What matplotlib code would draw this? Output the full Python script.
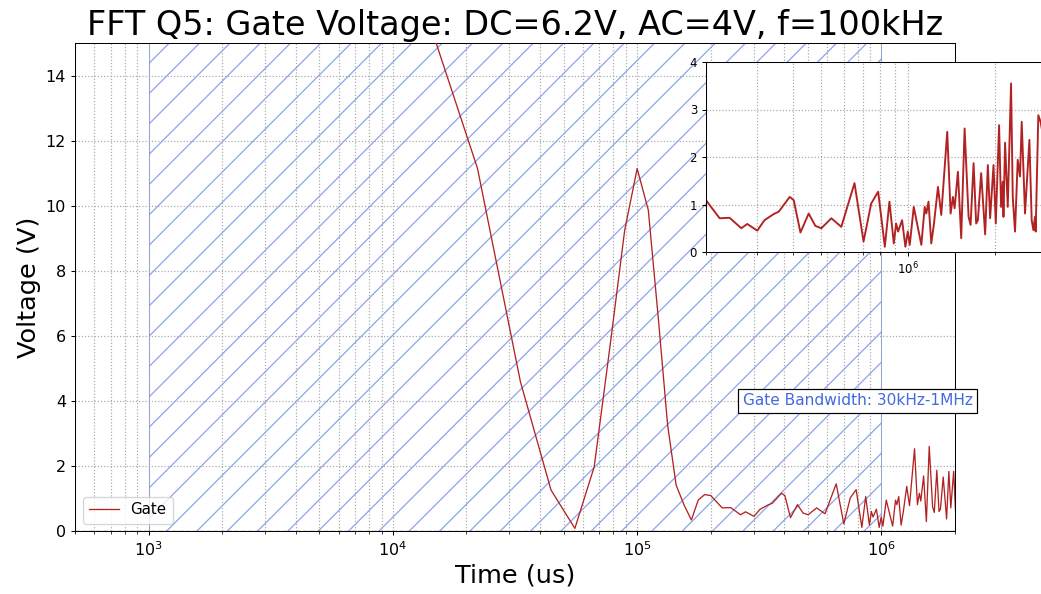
import matplotlib
matplotlib.use("Agg")
import numpy as np
import matplotlib.pyplot as plt
from matplotlib.ticker import NullFormatter, LogLocator

# Gate voltage spectrum (frequency in kHz, amplitude in V)
freq_khz = [11.1, 22.2, 33.3, 44.4, 55.6, 66.7, 77.8, 88.9, 100.0, 111.1,
            122.2, 133.3, 144.4, 155.6, 166.7, 177.8, 188.9, 200.0,
            223.0, 241.4, 264.9, 277.8, 300.9, 318.7, 343.2, 357.1, 389.7, 402.3,
            424.3, 453.1, 477.8, 501.2, 542.8, 587.5, 652.7, 701.4, 745.5, 788.0,
            831.1, 862.0, 892.7, 909.1, 923.7, 953.5, 978.8, 997.6, 1013.6, 1046.4,
            1111.4, 1141.9, 1156.5, 1176.8, 1203.2, 1229.2, 1269.0, 1302.6, 1366.0, 1403.4,
            1429.5, 1448.8, 1487.4, 1527.0, 1568.7, 1619.4, 1645.4, 1685.2, 1720.1, 1743.6,
            1789.9, 1847.7, 1887.7, 1922.4, 1975.0, 2011.2, 2064.5, 2097.6, 2126.3, 2138.0,
            2165.3, 2212.2, 2271.0, 2302.0, 2344.2, 2395.0, 2439.1, 2472.4, 2538.0, 2628.5,
            2676.7, 2713.1, 2747.9, 2763.2, 2821.8, 2873.5, 2900.0]
gate_v = [18.0, 11.15, 4.58, 1.26, 0.08, 1.97, 5.8, 9.24, 11.14, 9.86,
          6.5, 3.25, 1.41, 0.8, 0.34, 0.95, 1.12, 1.09,
          0.71, 0.72, 0.50, 0.59, 0.45, 0.67, 0.80, 0.85, 1.16, 1.09,
          0.41, 0.81, 0.55, 0.50, 0.71, 0.53, 1.45, 0.22, 1.02, 1.27,
          0.11, 1.06, 0.18, 0.60, 0.43, 0.67, 0.11, 0.43, 0.15, 0.95,
          0.15, 0.95, 0.81, 1.06, 0.18, 0.60, 1.37, 0.78, 2.53, 0.81,
          1.16, 0.92, 1.69, 0.29, 2.60, 0.74, 0.57, 1.87, 0.60, 0.67,
          1.66, 0.37, 1.83, 0.71, 1.83, 0.60, 2.67, 0.95, 1.48, 0.74,
          2.30, 0.95, 3.55, 1.16, 0.43, 1.94, 1.59, 2.74, 0.81, 2.36,
          0.67, 0.46, 0.74, 0.43, 2.88, 2.74, 2.6]

band_lo, band_hi = 1e3, 1e6
band_label = "Gate Bandwidth: 30kHz-1MHz"
title = "FFT Q5: Gate Voltage: DC=6.2V, AC=4V, f=100kHz"

DPI = 91.5
W, H = 1041, 594


def pt(px):
    return px * 72.0 / DPI


freq_hz = np.array(freq_khz) * 1e3
volts = np.array(gate_v)

fig = plt.figure(figsize=(W / DPI, H / DPI), dpi=DPI)
ax = fig.add_axes([75 / W, 63 / H, 880 / W, 488 / H])

line_color = "#b22222"
band_color = "royalblue"

ax.axvspan(band_lo, band_hi, facecolor="none", edgecolor=band_color,
           hatch="/", alpha=0.6, lw=pt(1.0), zorder=1)
ax.plot(freq_hz, volts, color=line_color, lw=pt(1.3), label="Gate", zorder=3)
ax.axhline(0, color=line_color, ls="--", lw=pt(1.3), zorder=3)

ax.set_xscale("log")
ax.set_xlim(500, 2e6)
ax.set_ylim(0, 15)
ax.set_yticks(np.arange(0, 15, 2))
ax.xaxis.set_minor_formatter(NullFormatter())
ax.grid(True, which="both", ls=":", color="#a8a8a8", lw=pt(1.2))
ax.tick_params(labelsize=pt(16))
ax.set_xlabel("Time (us)", fontsize=pt(25.6))
ax.set_ylabel("Voltage (V)", fontsize=pt(25.6))
ax.set_title(title, fontsize=pt(33.5))

ax.text(8e5, 4.0, band_label, color=band_color, fontsize=pt(15.4),
        ha="center", va="center", zorder=5,
        bbox=dict(boxstyle="square,pad=0.3", facecolor="white",
                  edgecolor="black", lw=pt(1.2)))

ax.legend(loc="lower left", fontsize=pt(15), framealpha=0.8)

# Zoomed view of the high-frequency part
axin = fig.add_axes([706 / W, (H - 252) / H, 340 / W, 190 / H])
axin.plot(freq_hz, volts, color=line_color, lw=pt(1.9))
axin.set_xscale("log")
axin.set_xlim(2e5, 3e6)
axin.set_ylim(0, 4)
axin.set_yticks([0, 1, 2, 3, 4])
axin.xaxis.set_minor_formatter(NullFormatter())
axin.grid(True, which="both", ls=":", color="#a8a8a8", lw=pt(1.2))
axin.tick_params(labelsize=pt(11.8))

fig.savefig("out.png", dpi=DPI)
